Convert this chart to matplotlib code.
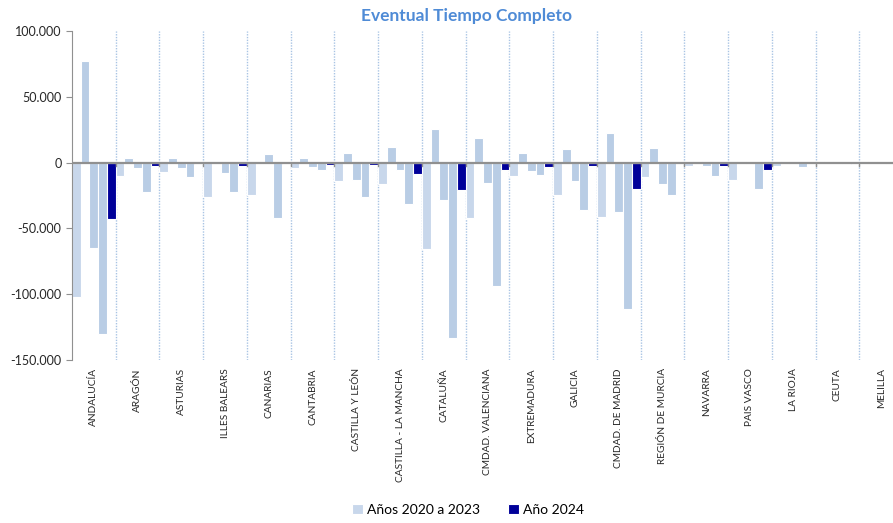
import numpy as np
import matplotlib
matplotlib.use("Agg")
import matplotlib.pyplot as plt
from matplotlib.ticker import FuncFormatter

plt.rcParams['font.family'] = ['Lato', 'DejaVu Sans']

regions = ["ANDALUCÍA", "ARAGÓN", "ASTURIAS", "ILLES BALEARS", "CANARIAS",
           "CANTABRIA", "CASTILLA Y LEÓN", "CASTILLA - LA MANCHA", "CATALUÑA",
           "CMDAD. VALENCIANA", "EXTREMADURA", "GALICIA", "CMDAD. DE MADRID",
           "REGIÓN DE MURCIA", "NAVARRA", "PAIS VASCO", "LA RIOJA", "CEUTA", "MELILLA"]

y2020 = [-102300, -10100, -7300, -26500, -24700, -4300, -13900, -15900, -65700, -42400,
         -10100, -24700, -41200, -11100, -2300, -13100, -2300, 1000, -500]
y2021 = [77300, 3500, 3500, 300, 300, 3500, 7300, 12100, 25800, 18900,
         7300, 10400, 22700, 11400, 1300, 1300, 1300, 1000, 1000]
y2022 = [-64600, -4300, -4300, -8100, 6300, -3000, -13100, -5300, -28500, -15200,
         -6100, -14100, -37400, -15900, -2300, -1300, -1300, -500, -300]
y2023 = [-130500, -22000, -11100, -22000, -42400, -6000, -26500, -31600, -133600, -93900,
         -9100, -36400, -111100, -24700, -10100, -19900, -3300, -1300, -1300]
y2024 = [-42900, -2300, -1000, -2300, -1000, -1500, -1500, -8300, -21000, -5300,
         -3300, -2300, -19900, -500, -2300, -5300, -500, -700, -500]

light_a = "#C8D7EB"
light_b = "#B9CDE5"
dark = "#000099"

fig = plt.figure(figsize=(8.93, 5.23), dpi=100)
ax = fig.add_axes([0.0806, 0.3117, 0.9306, 0.629])

x = np.arange(len(regions))
w = 0.2
series = [(y2020, light_a, "Años 2020 a 2023"), (y2021, light_b, "_a"),
          (y2022, light_b, "_b"), (y2023, light_b, "_c"), (y2024, dark, "Año 2024")]
for i, (vals, col, lab) in enumerate(series):
    ax.bar(x + i * w, vals, width=w, align="edge", color=col,
           edgecolor="white", linewidth=0.8, label=lab, zorder=2)

ax.set_xlim(0, len(regions))
ax.set_ylim(-150000, 100000)
ax.set_yticks(range(-150000, 100001, 50000))
ax.yaxis.set_major_formatter(FuncFormatter(lambda v, p: f"{int(v):,}".replace(",", ".")))

# separators between regions
for b in range(1, len(regions)):
    ax.axvline(b, color="#A9C4E4", linestyle=(0, (1, 1)), linewidth=1, zorder=1)
    ax.plot([b, b], [0, -2500], color="#909090", linewidth=1, zorder=3)
ax.axhline(0, color="#909090", linewidth=1.6, zorder=3)

ax.set_xticks(x + 0.5)
ax.set_xticklabels(regions, rotation=90, fontsize=7.3, color="#262626")
ax.tick_params(axis="x", length=0, pad=6)
ax.tick_params(axis="y", labelsize=9, color="#909090", length=4, labelcolor="#262626")

for s in ["top", "right", "bottom"]:
    ax.spines[s].set_visible(False)
ax.spines["left"].set_color("#909090")

fig.text(0.522, 0.969, "Eventual Tiempo Completo", ha="center", va="center",
         fontsize=12.5, fontweight="bold", color="#4F8BD6")

fig.legend(loc="center", bbox_to_anchor=(0.524, 0.025), ncol=2, frameon=False,
           fontsize=10, handlelength=0.8, handleheight=0.8, handletextpad=0.3,
           columnspacing=2.0)

fig.savefig("out.png", dpi=100)
